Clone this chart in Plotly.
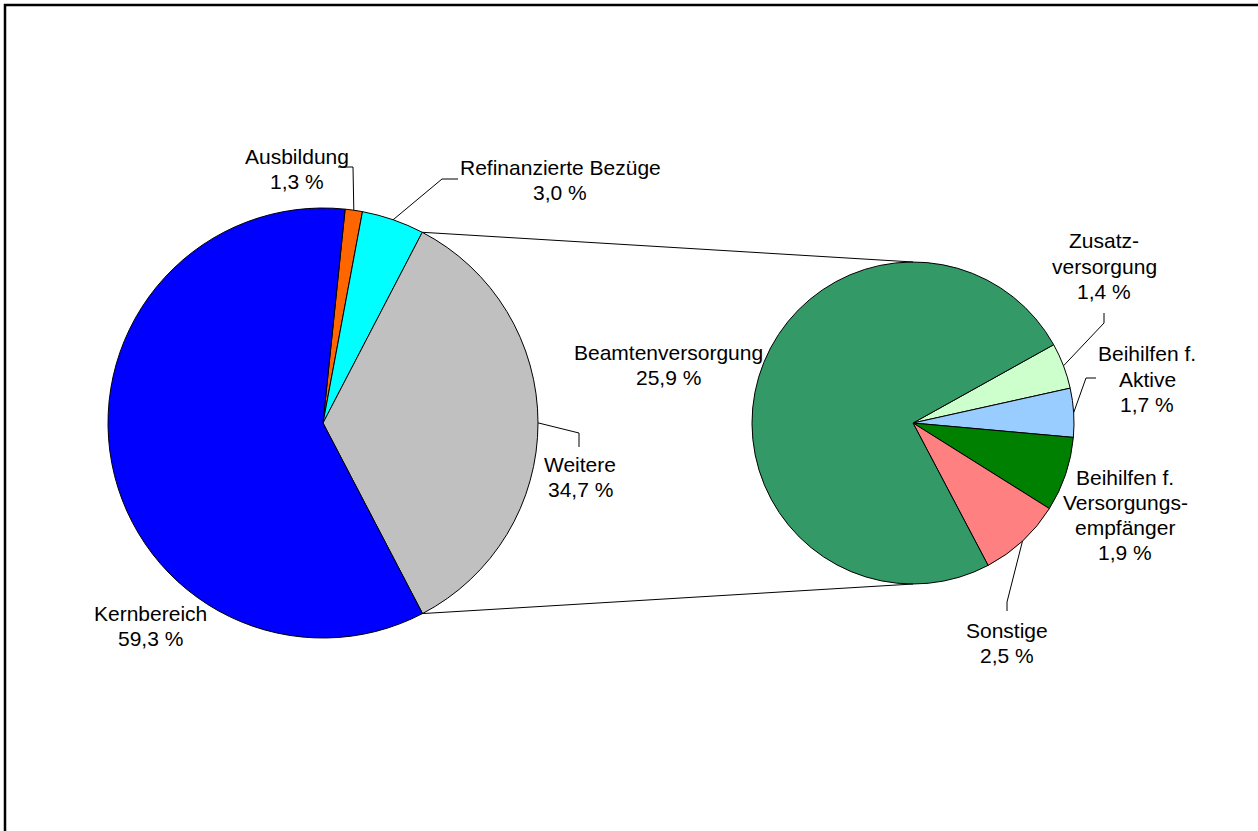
import math
import plotly.graph_objects as go

# --- Data ---
# left pie (slice sizes as drawn), clockwise from the top
left_labels = ["Ausbildung", "Refinanzierte Bezüge", "Weitere", "Kernbereich"]
left_values = [1.3, 4.7, 34.7, 59.3]
left_text = [["Ausbildung", "1,3 %"], ["Refinanzierte Bezüge", "3,0 %"],
             ["Weitere", "34,7 %"], ["Kernbereich", "59,3 %"]]
left_colors = ["#FF6600", "#00FFFF", "#C0C0C0", "#0000FF"]

# right pie = breakdown of "Weitere"
right_labels = ["Zusatzversorgung", "Beihilfen f. Aktive", "Beihilfen f. Versorgungsempfänger",
                "Sonstige", "Beamtenversorgung"]
right_values = [1.6, 1.7, 2.6, 2.9, 25.9]
right_text = [["Zusatz-", "versorgung", "1,4 %"], ["Beihilfen f.", "Aktive", "1,7 %"],
              ["Beihilfen f.", "Versorgungs-", "empfänger", "1,9 %"], ["Sonstige", "2,5 %"],
              ["Beamtenversorgung", "25,9 %"]]
right_colors = ["#CCFFCC", "#99CCFF", "#008000", "#FF8080", "#339966"]

# --- Layout config (pixels) ---
W, H = 1258, 831
L_CX, L_CY, L_R, L_ROT = 323, 423, 215, 5.9
R_CX, R_CY, R_R, R_ROT = 913, 423, 161, 60.9
FONT = dict(family="Arial, Liberation Sans, sans-serif", size=21, color="black")
LINE_H = 25.3

# label centres and leader elbows/ends (None = no leader)
left_label_pos = [(297, 169), (560, 180), (580, 477), (150, 626)]
left_leaders = [[(353, 167), (338, 167)], [(442, 179), (458, 179)], [(579, 433), (579, 447)], None]
right_label_pos = [(1104, 266), (1147, 379), (1125, 515), (1007, 643), (668, 365)]
right_leaders = [[(1104, 323), (1104, 313)], [(1086, 378), (1096, 378)], None, [(1007, 602), (1007, 611)], None]


def px(x):
    return x / W


def py(y):
    return 1 - y / H


def edge_point(cx, cy, r, ang):
    a = math.radians(ang)
    return cx + r * math.sin(a), cy - r * math.cos(a)


def slice_angles(values, rot):
    tot = sum(values)
    out, cur = [], rot
    for v in values:
        span = v / tot * 360
        out.append((cur, cur + span))
        cur += span
    return out


def pie(labels, values, colors, cx, cy, r, rot):
    return go.Pie(
        labels=labels, values=values, sort=False, direction="clockwise", rotation=rot,
        marker=dict(colors=colors, line=dict(color="black", width=1)),
        textinfo="none", hoverinfo="label+percent", showlegend=False,
        domain=dict(x=[px(cx - r), px(cx + r)], y=[py(cy + r), py(cy - r)]),
    )


fig = go.Figure()
fig.add_trace(pie(left_labels, left_values, left_colors, L_CX, L_CY, L_R, L_ROT))
fig.add_trace(pie(right_labels, right_values, right_colors, R_CX, R_CY, R_R, R_ROT))

shapes = []
annotations = []
line_style = dict(color="black", width=1)


def add_labels(values, rot, cx, cy, r, texts, positions, leaders):
    for (a0, a1), lines, (tx, ty), lead in zip(slice_angles(values, rot), texts, positions, leaders):
        n = len(lines)
        for i, s in enumerate(lines):
            ly = ty + (i - (n - 1) / 2) * LINE_H
            annotations.append(dict(x=px(tx), y=py(ly), xref="paper", yref="paper", text=s,
                                    showarrow=False, xanchor="center", yanchor="middle", font=FONT))
        if lead:
            pts = [edge_point(cx, cy, r, (a0 + a1) / 2)] + lead
            path = "M " + " L ".join(f"{px(x)},{py(y)}" for x, y in pts)
            shapes.append(dict(type="path", xref="paper", yref="paper", path=path, line=line_style))


add_labels(left_values, L_ROT, L_CX, L_CY, L_R, left_text, left_label_pos, left_leaders)
add_labels(right_values, R_ROT, R_CX, R_CY, R_R, right_text, right_label_pos, right_leaders)

# connector lines between the "Weitere" slice and the second pie
w0, w1 = slice_angles(left_values, L_ROT)[2]
for ang, ry in [(w0, R_CY - R_R), (w1, R_CY + R_R)]:
    x0, y0 = edge_point(L_CX, L_CY, L_R, ang)
    shapes.append(dict(type="line", xref="paper", yref="paper", x0=px(x0), y0=py(y0),
                       x1=px(R_CX), y1=py(ry), line=line_style))

# chart frame (only top and left edges visible)
shapes.append(dict(type="rect", xref="paper", yref="paper", x0=px(5), y0=-0.05, x1=1.05, y1=py(5),
                   line=dict(color="black", width=2.5)))

fig.update_layout(
    width=W, height=H,
    margin=dict(l=0, r=0, t=0, b=0),
    paper_bgcolor="white", plot_bgcolor="white",
    shapes=shapes, annotations=annotations,
)

# drop the default page margin so the figure sits at the window's corner
fig.write_html("out.html", config={"displayModeBar": False},
               post_script="document.body.style.margin='0';")
